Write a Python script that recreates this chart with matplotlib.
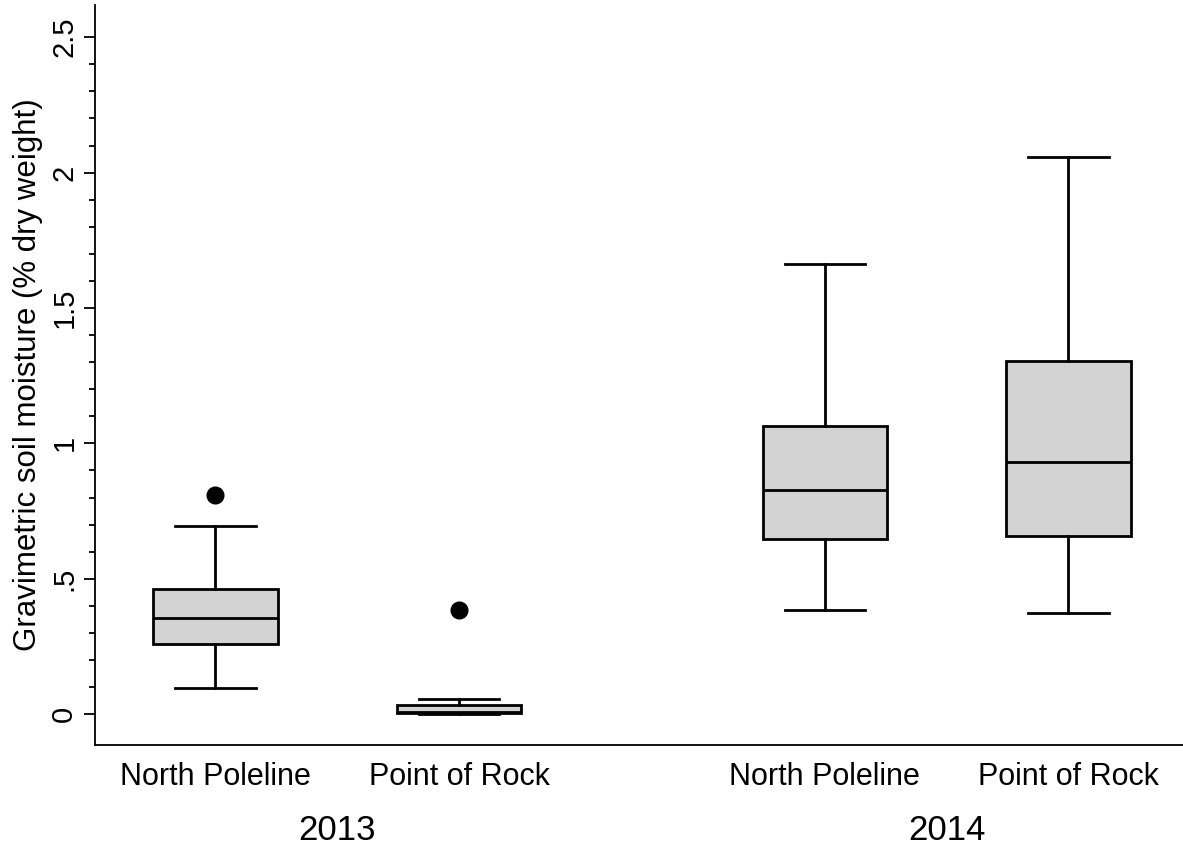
import matplotlib.pyplot as plt
from matplotlib.ticker import FixedLocator

plt.rcParams['font.family'] = ['Liberation Sans', 'DejaVu Sans']

# soil moisture summaries per site and year
sites = ["North Poleline", "Point of Rock", "North Poleline", "Point of Rock"]
years = ["2013", "2014"]
whislo = [0.096, 0.000, 0.384, 0.373]
q1 = [0.259, 0.005, 0.646, 0.657]
med = [0.355, 0.007, 0.827, 0.931]
q3 = [0.462, 0.033, 1.064, 1.304]
whishi = [0.694, 0.055, 1.662, 2.057]
fliers = [[0.809], [0.384], [], []]

positions = [1, 2, 3.5, 4.5]

stats = []
for i in range(len(sites)):
    stats.append(dict(whislo=whislo[i], q1=q1[i], med=med[i], q3=q3[i],
                      whishi=whishi[i], fliers=fliers[i]))

fig = plt.figure(figsize=(11.83, 8.46), dpi=100)
ax = fig.add_axes([0.0803, 0.1194, 0.9197, 0.875])

lw = 2.0
ax.bxp(stats, positions=positions, widths=0.51, patch_artist=True,
       boxprops=dict(facecolor="#d3d3d3", edgecolor="black", linewidth=lw),
       medianprops=dict(color="black", linewidth=lw),
       whiskerprops=dict(color="black", linewidth=lw),
       capprops=dict(color="black", linewidth=lw),
       flierprops=dict(marker="o", markerfacecolor="black",
                       markeredgecolor="black", markersize=12),
       capwidths=0.33)

ax.set_xlim(0.506, 4.97)
ax.set_ylim(-0.114, 2.62)

for s in ["top", "right"]:
    ax.spines[s].set_visible(False)
for s in ["left", "bottom"]:
    ax.spines[s].set_linewidth(1.3)

major = [0, 0.5, 1, 1.5, 2, 2.5]
minor = [round(0.1 * k, 1) for k in range(1, 25) if k % 5]
ax.yaxis.set_major_locator(FixedLocator(major))
ax.yaxis.set_minor_locator(FixedLocator(minor))
ax.set_yticklabels(["0", ".5", "1", "1.5", "2", "2.5"], rotation=90,
                   va="center", fontsize=21)
ax.tick_params(axis="y", which="major", length=8, width=1.3, pad=4)
ax.tick_params(axis="y", which="minor", length=4, width=1.3)

ax.set_xticks(positions)
ax.set_xticklabels(sites, fontsize=22)
ax.tick_params(axis="x", length=0, pad=12)

ax.set_ylabel("Gravimetric soil moisture (% dry weight)", fontsize=22.5,
              labelpad=5)

# year labels under each pair of sites
for yr, (a, b) in zip(years, [(positions[0], positions[1]),
                              (positions[2], positions[3])]):
    ax.text((a + b) / 2, -0.093, yr, transform=ax.get_xaxis_transform(),
            ha="center", va="top", fontsize=25)

fig.savefig("out.png", dpi=100)
